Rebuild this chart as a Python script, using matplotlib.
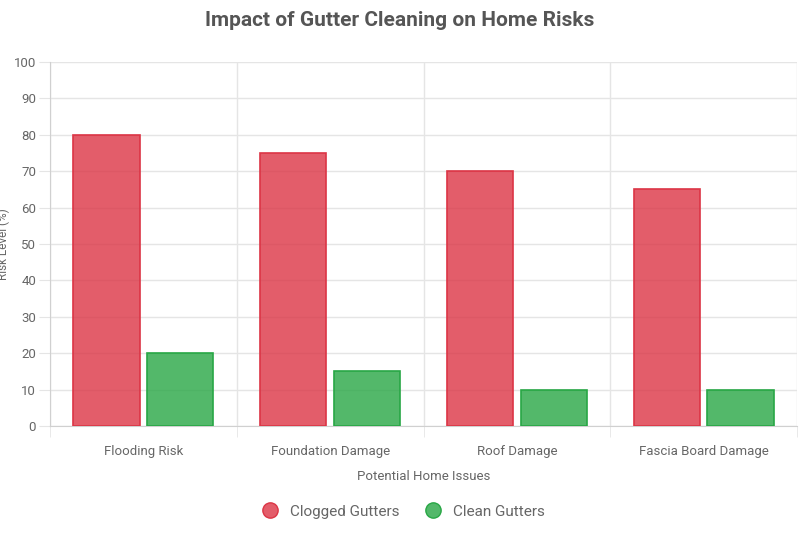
import matplotlib
matplotlib.use("Agg")
import matplotlib.pyplot as plt
import numpy as np
from matplotlib.lines import Line2D

categories = ["Flooding Risk", "Foundation Damage", "Roof Damage", "Fascia Board Damage"]
clogged = [80, 75, 70, 65]
clean = [20, 15, 10, 10]

plt.rcParams['font.family'] = ['Roboto', 'DejaVu Sans']
fig = plt.figure(figsize=(7.99, 5.33), dpi=100)
ax = fig.add_axes([0.0626, 0.2008, 0.935, 0.6829])
x = np.arange(len(categories))
w = 0.355
red_f, red_e = (220/255, 53/255, 69/255, 0.8), (220/255, 53/255, 69/255, 1)
grn_f, grn_e = (40/255, 167/255, 69/255, 0.8), (40/255, 167/255, 69/255, 1)
ax.bar(x - w/2 - 0.02, clogged, w, color=red_f, edgecolor=red_e, linewidth=1.2, zorder=3)
ax.bar(x + w/2 + 0.02, clean, w, color=grn_f, edgecolor=grn_e, linewidth=1.2, zorder=3)
ax.set_xlim(-0.5, 3.5)
ax.set_ylim(0, 100)
ax.set_yticks(range(0, 101, 10))
ax.set_xticks(x)
ax.set_xticklabels(categories)
ax.set_xticks([-0.5, 0.5, 1.5, 2.5, 3.5], minor=True)
ax.grid(True, which='minor', axis='x', color='#e5e5e5', linewidth=1)
ax.grid(True, which='major', axis='y', color='#e5e5e5', linewidth=1)
ax.tick_params(axis='x', which='major', length=0, pad=14, labelsize=9.5, colors='#666666')
ax.tick_params(axis='x', which='minor', length=8, color='#e5e5e5')
ax.tick_params(axis='y', length=8, color='#e5e5e5', labelsize=9.5, colors='#666666', pad=2)
for s in ['top', 'right']:
    ax.spines[s].set_visible(False)
for s in ['left', 'bottom']:
    ax.spines[s].set_color('#d0d0d0')
ax.set_axisbelow(True)
ax.set_ylabel("Risk Level (%)", fontsize=8.5, color='#666666', labelpad=3)
ax.set_xlabel("Potential Home Issues", fontsize=9.5, color='#666666', labelpad=8)
fig.text(0.5, 0.962, "Impact of Gutter Cleaning on Home Risks", ha='center', va='center',
         fontsize=15, fontweight='bold', color='#555555')
handles = [Line2D([], [], marker='o', linestyle='', markersize=11, markerfacecolor=red_f, markeredgecolor=red_e),
           Line2D([], [], marker='o', linestyle='', markersize=11, markerfacecolor=grn_f, markeredgecolor=grn_e)]
fig.legend(handles, ["Clogged Gutters", "Clean Gutters"], loc='center', bbox_to_anchor=(0.5, 0.04),
           ncol=2, frameon=False, fontsize=11, labelcolor='#666666', handletextpad=0.3, columnspacing=1.2)
fig.savefig("out.png", dpi=100)
